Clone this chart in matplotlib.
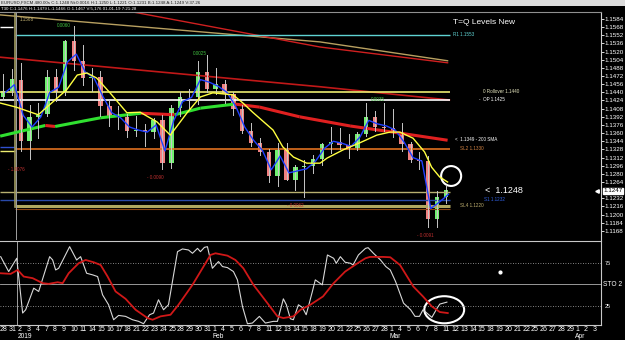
# EURUSD 8H grafiek met T=Q levels en stochastic, nagebouwd met matplotlib.
import numpy as np
import pandas as pd
import matplotlib
matplotlib.use('Agg')
import matplotlib.pyplot as plt
import matplotlib.patches as mpatches
from matplotlib.transforms import blended_transform_factory

plt.rcParams['font.family'] = ['Liberation Sans', 'DejaVu Sans']

# Handelsdagen op de tijd-as (1 januari is een feestdag). Index 0 = 2 jan 2019.
dagen = [d for d in pd.bdate_range('2018-12-28', '2019-04-03')
         if d != pd.Timestamp('2019-01-01')]
dag_labels = [str(d.day) for d in dagen]
dag_index = np.arange(len(dagen)) - 2

maand_labels = ['2019', 'Feb', 'Mar', 'Apr']
maand_index = [0, 22, 42, 63]

# Koersen per dag, 28 dec t/m 11 maart.
open_ = [1.1430, 1.1443, 1.1464, 1.1345, 1.1391,
         1.1397, 1.1471, 1.1440, 1.1540, 1.1502,
         1.1468, 1.1470, 1.1413, 1.1391, 1.1392,
         1.1364, 1.1367, 1.1363, 1.1386, 1.1302,
         1.1410, 1.1430, 1.1430, 1.1480, 1.1447,
         1.1456, 1.1436, 1.1407, 1.1364, 1.1340,
         1.1323, 1.1275, 1.1327, 1.1268, 1.1294,
         1.1296, 1.1310, 1.1339, 1.1343, 1.1336,
         1.1331, 1.1359, 1.1391, 1.1372, 1.1371,
         1.1363, 1.1339, 1.1307, 1.1306, 1.1192,
         1.1235]
hoog = [1.1476, 1.1486, 1.1497, 1.1415, 1.1420,
        1.1484, 1.1486, 1.1542, 1.1570, 1.1532,
        1.1488, 1.1481, 1.1425, 1.1413, 1.1398,
        1.1394, 1.1378, 1.1390, 1.1396, 1.1415,
        1.1440, 1.1447, 1.1502, 1.1514, 1.1488,
        1.1464, 1.1441, 1.1415, 1.1380, 1.1351,
        1.1328, 1.1341, 1.1340, 1.1297, 1.1307,
        1.1317, 1.1340, 1.1372, 1.1371, 1.1359,
        1.1363, 1.1420, 1.1404, 1.1419, 1.1408,
        1.1379, 1.1342, 1.1322, 1.1316, 1.1246,
        1.1258]
laag = [1.1424, 1.1434, 1.1325, 1.1310, 1.1351,
        1.1394, 1.1423, 1.1434, 1.1483, 1.1454,
        1.1443, 1.1394, 1.1373, 1.1369, 1.1352,
        1.1355, 1.1335, 1.1351, 1.1289, 1.1292,
        1.1393, 1.1410, 1.1417, 1.1440, 1.1436,
        1.1420, 1.1395, 1.1360, 1.1335, 1.1318,
        1.1265, 1.1257, 1.1268, 1.1249, 1.1234,
        1.1281, 1.1298, 1.1320, 1.1328, 1.1312,
        1.1326, 1.1354, 1.1364, 1.1364, 1.1353,
        1.1325, 1.1304, 1.1289, 1.1176, 1.1176,
        1.1223]
slot = [1.1443, 1.1467, 1.1345, 1.1391, 1.1395,
        1.1471, 1.1440, 1.1540, 1.1502, 1.1468,
        1.1470, 1.1413, 1.1391, 1.1392, 1.1364,
        1.1367, 1.1363, 1.1386, 1.1302, 1.1410,
        1.1430, 1.1430, 1.1480, 1.1447, 1.1456,
        1.1436, 1.1407, 1.1364, 1.1340, 1.1323,
        1.1275, 1.1327, 1.1268, 1.1294, 1.1296,
        1.1310, 1.1339, 1.1343, 1.1336, 1.1331,
        1.1359, 1.1391, 1.1372, 1.1371, 1.1363,
        1.1339, 1.1307, 1.1306, 1.1192, 1.1235,
        1.1248]
kaars_index = np.arange(len(slot)) - 2

# Snelle (blauwe) lijn per dag.
blauw = [1.1440, 1.1455, 1.1395, 1.1372, 1.1392, 1.1440, 1.1450, 1.1500, 1.1515,
         1.1480, 1.1468, 1.1432, 1.1400, 1.1390, 1.1372, 1.1366, 1.1362, 1.1376,
         1.1325, 1.1385, 1.1422, 1.1430, 1.1465, 1.1460, 1.1452, 1.1440, 1.1412,
         1.1372, 1.1346, 1.1326, 1.1288, 1.1315, 1.1282, 1.1286, 1.1290, 1.1305,
         1.1330, 1.1344, 1.1340, 1.1334, 1.1352, 1.1385, 1.1378, 1.1374, 1.1366,
         1.1342, 1.1312, 1.1305, 1.1212, 1.1225, 1.1240]

# Trage (gele) lijn.
geel_x = [-1.9, -0.1, 2.4, 5.6, 6.8, 7.9, 9.0, 10.5, 12.4, 13.9, 15.8, 17.3, 19.2,
          20.7, 22.1, 24.4, 25.5, 26.6, 28.9, 30.0, 31.2, 32.7, 34.2, 35.0, 36.8,
          38.7, 40.6, 42.1, 43.2, 44.7, 46.0, 46.8, 47.7, 48.6]
geel_y = [1.1419, 1.1411, 1.1396, 1.1445, 1.1474, 1.1478, 1.1468, 1.1439, 1.1400,
          1.1401, 1.1382, 1.1356, 1.1400, 1.1431, 1.1439, 1.1435, 1.1419, 1.1401,
          1.1366, 1.1333, 1.1313, 1.1301, 1.1301, 1.1311, 1.1327, 1.1341, 1.1356,
          1.1362, 1.1362, 1.1350, 1.1323, 1.1293, 1.1274, 1.1264]

# 200 SMA (groen als hij stijgt, rood als hij daalt).
sma200_x = [-1.9, 3.2, 4.3, 9.4, 14.0, 17.8, 20.7, 24.6, 27.4, 31.9, 37.6, 43.2, 48.6]
sma200_y = [1.1354, 1.1375, 1.1373, 1.1390, 1.1399, 1.1396, 1.1409, 1.1417, 1.1411,
            1.1392, 1.1374, 1.1360, 1.1346]

# Lange gemiddelden bovenin.
tan_x = [-1.9, 34.2, 48.6]
tan_y = [1.1592, 1.1539, 1.1502]
rood_boven_x = [13.0, 34.2, 48.6]
rood_boven_y = [1.1598, 1.1529, 1.1498]
rood_midden_x = [-1.9, 34.2, 48.8]
rood_midden_y = [1.1509, 1.1451, 1.1425]

# Stochastic %K (wit) en %D (rood).
sto_k_x = [-1.92, -1.02, -0.11, 0.56, 0.9, 1.81, 2.37, 3.61, 3.95, 4.29, 4.63, 5.87,
           6.66, 7.11, 7.79, 8.47, 9.03, 9.59, 10.27, 10.84, 11.4, 12.19, 12.98,
           13.66, 14.22, 14.9, 15.35, 15.91, 16.48, 17.04, 18.06, 18.62, 19.3, 19.75,
           20.32, 20.65, 21.1, 21.44, 22.0, 22.69, 23.14, 23.7, 24.38, 24.83, 25.4,
           25.96, 26.52, 27.31, 27.99, 28.89, 29.35, 30.02, 30.36, 30.81, 31.15,
           31.72, 32.17, 32.6, 33.3, 33.63, 34.42, 35.0, 35.7, 36.0, 36.46, 37.0,
           37.6, 37.9, 38.5, 39.3, 39.6, 40.2, 41.0, 41.6, 42.1, 42.7, 43.6, 44.4,
           44.9, 45.4, 45.8, 46.8, 47.4, 47.7, 48.5]
sto_k_y = [82.7, 65.1, 80.8, 16.1, 20.0, 45.5, 41.6, 82.7, 78.8, 67.0, 69.0, 94.5,
           78.8, 82.7, 63.1, 61.2, 59.2, 37.6, 25.9, 8.2, 13.3, 12.2, 8.2, 6.3, 3.5,
           14.1, 16.1, 31.8, 20.0, 25.9, 88.6, 91.8, 90.6, 86.7, 92.5, 88.6, 93.7,
           94.5, 69.0, 76.9, 71.0, 69.8, 65.1, 55.3, 23.9, 3.5, 4.3, 12.2, 4.3, 6.3,
           6.3, 32.9, 25.9, 9.4, 8.2, 25.9, 22.7, 14.1, 41.6, 55.3, 49.4, 84.7, 80.8,
           74.9, 82.7, 76.1, 74.9, 72.9, 84.7, 92.5, 93.3, 86.7, 78.8, 71.0, 67.0,
           53.3, 27.8, 20.0, 12.2, 12.2, 20.0, 11.0, 22.0, 26.7, 29.0]
sto_d_x = [-1.92, -0.79, 0.0, 0.68, 1.69, 2.82, 3.5, 4.51, 5.08, 5.76, 6.88, 7.67,
           8.58, 9.37, 10.16, 11.06, 12.19, 13.32, 14.67, 15.24, 16.14, 17.27, 18.17,
           19.75, 20.88, 21.78, 22.35, 23.7, 24.6, 25.5, 26.64, 28.22, 29.35, 30.02,
           31.15, 31.96, 33.07, 34.5, 35.7, 37.0, 38.4, 39.3, 39.8, 41.3, 42.1, 43.2,
           44.7, 45.8, 46.8, 47.7, 48.6]
sto_d_y = [63.1, 62.4, 67.0, 59.2, 57.3, 51.4, 50.6, 52.5, 51.4, 63.1, 74.9, 78.8,
           76.1, 72.9, 59.2, 41.6, 32.9, 20.0, 10.2, 8.2, 12.2, 14.1, 25.9, 49.4, 69.0,
           84.7, 86.7, 83.9, 78.8, 69.0, 49.4, 27.8, 12.2, 10.2, 12.2, 20.0, 25.9,
           35.7, 51.4, 65.1, 74.9, 80.8, 82.4, 82.4, 82.0, 72.9, 47.5, 35.7, 23.9,
           17.3, 16.1]

# Prijs-as labels rechts.
prijs_ticks = [1.1584, 1.1568, 1.1552, 1.1536, 1.1520, 1.1504, 1.1488, 1.1472, 1.1456,
               1.1440, 1.1424, 1.1408, 1.1392, 1.1376, 1.1360, 1.1344, 1.1328, 1.1312,
               1.1296, 1.1280, 1.1264, 1.1232, 1.1216, 1.1200, 1.1184, 1.1168]
huidige_prijs = 1.1247

# Horizontale levels: (prijs, begin, eind, kleur, dikte)
levels = [
    (1.1553, -0.23, 48.9, '#5fd3d3', 1.0),
    (1.1441, -1.92, 48.9, '#ecec70', 1.2),
    (1.1425, -1.92, 48.9, '#ffffff', 1.2),
    (1.1568, -1.92, -0.4, '#ffffff', 1.0),
    (1.1329, -0.23, 48.9, '#e07020', 1.2),
    (1.1333, -1.92, -0.23, '#3050d0', 1.0),
    (1.1325, -1.92, -0.23, '#ecec70', 1.0),
    (1.1244, -1.92, 48.9, '#b8b070', 1.0),
    (1.1229, -1.92, 48.9, '#2848a8', 1.0),
    (1.1217, -0.23, 48.9, '#b0a860', 2.2),
    (1.1212, -0.23, 48.9, '#8b4513', 0.8),
]

level_teksten = [
    (49.2, 1.1553, 'R1 1.1553', '#5fd3d3'),
    (52.6, 1.1441, '0 Rollover 1.1440', '#e8e8c0'),
    (52.1, 1.1425, '-  OP 1.1425', '#ffffff'),
    (49.4, 1.1347, '<  1.1349 - 200 SMA', '#ffffff'),
    (50.0, 1.1329, 'SL2 1.1330', '#d08040'),
    (52.7, 1.1229, 'S1 1.1232', '#3060e0'),
    (50.0, 1.1217, 'SL4 1.1220', '#c0b070'),
]
swing_teksten = [
    (4.5, 1.1572, '0.0060', '#40c040'),
    (19.9, 1.1517, '0.0025', '#40c040'),
    (39.9, 1.1425, '0.0035', '#40c040'),
    (-1.0, 1.1288, '- 1.0076', '#c03030'),
    (14.7, 1.1273, '- 0.0090', '#c03030'),
    (30.5, 1.1218, '- 0.0062', '#c03030'),
    (45.2, 1.1160, '- 0.0091', '#c03030'),
]

W, H = 625, 340
fig = plt.figure(figsize=(W / 100, H / 100), dpi=100, facecolor='black')


def box(x0, y0, x1, y1):
    return [x0 / W, 1 - y1 / H, (x1 - x0) / W, (y1 - y0) / H]


ax = fig.add_axes(box(0, 12, 601, 240), facecolor='black')
ax2 = fig.add_axes(box(0, 241, 601, 325), facecolor='black')

xmin, xmax = -17 / 8.86, 584 / 8.86
ax.set_xlim(xmin, xmax)
ax.set_ylim(1.11502, 1.15977)
ax2.set_xlim(xmin, xmax)
ax2.set_ylim(2.0, 101.2)

# Lange gemiddelden
ax.plot(tan_x, tan_y, color='#b8a060', lw=1)
ax.plot(rood_boven_x, rood_boven_y, color='#d02020', lw=1)
ax.plot(rood_midden_x, rood_midden_y, color='#c01818', lw=1.2)

# Levels
for prijs, x0, x1, kleur, dikte in levels:
    ax.plot([x0, x1], [prijs, prijs], color=kleur, lw=dikte, solid_capstyle='butt')
ax.plot([-0.23, -0.23], [1.1215, 1.15977], color='#a09a60', lw=1.2)
ax.axvline(-0.1, color='#a0a0a0', lw=0.7)
ax2.axvline(-0.1, color='#a0a0a0', lw=0.7)

# 200 SMA, gekleurd naar richting
for i in range(len(sma200_x) - 1):
    kleur = '#30e030' if sma200_y[i + 1] >= sma200_y[i] else '#e02020'
    ax.plot(sma200_x[i:i + 2], sma200_y[i:i + 2], color=kleur, lw=2.2,
            solid_capstyle='butt')

# Kaarsen
kx = kaars_index + 0.42
for x, o, h, l, c in zip(kx, open_, hoog, laag, slot):
    ax.plot([x, x], [l, h], color='#c8c8c8', lw=0.7)
    kleur = '#70f070' if c >= o else '#f08080'
    ax.bar(x, max(abs(c - o), 0.00008), bottom=min(o, c), width=0.5, color=kleur,
           edgecolor='none')

ax.plot(kaars_index + 0.7, blauw, color='#2040ff', lw=1)
ax.plot(geel_x, geel_y, color='#ffff40', lw=1)

for x, y, t, kleur in level_teksten:
    ax.text(x, y, t, color=kleur, fontsize=3.3, va='center', ha='left')
for x, y, t, kleur in swing_teksten:
    ax.text(x, y, t, color=kleur, fontsize=3.3, va='center', ha='left')
ax.text(0.3, 1.1583, '1.1568', color='#c0b070', fontsize=3.3, va='center')
ax.text(52.8, huidige_prijs, '<  1.1248', color='white', fontsize=6.5, va='center')
ax.text(49.2, 1.1577, 'T=Q Levels New', color='white', fontsize=6, va='center')

ax.add_patch(mpatches.Ellipse((49.0, 1.12758), 2.26, 0.0039, fill=False,
                              edgecolor='white', lw=1.5))

# Prijs-as rechts
ax.yaxis.tick_right()
ax.set_yticks(prijs_ticks)
ax.set_yticklabels(['%.4f' % p for p in prijs_ticks])
ax.tick_params(axis='y', colors='white', labelsize=4.5, length=2, pad=0.5, width=0.6)
ax.set_xticks([])
ax.text(1.0045, huidige_prijs, '%.4f' % huidige_prijs, transform=blended_transform_factory(
    ax.transAxes, ax.transData), fontsize=4.5, color='black', va='center', ha='left',
    bbox=dict(facecolor='white', edgecolor='white', pad=0.3))
ax.plot([65.5], [huidige_prijs], marker='<', color='white', markersize=2.5, clip_on=False)

for kant in ['left', 'bottom']:
    ax.spines[kant].set_visible(False)
ax.spines['top'].set_color('#909090')
ax.spines['right'].set_color('#d0d0d0')
ax.spines['right'].set_linewidth(0.8)

# Stochastic
for niveau, stijl in [(75, (0, (1, 2))), (50, '-'), (25, (0, (1, 2)))]:
    ax2.axhline(niveau, color='#b0b0b0', lw=0.6, linestyle=stijl)
ax2.plot(sto_k_x, sto_k_y, color='#d8d8d8', lw=0.8)
ax2.plot(sto_d_x, sto_d_y, color='#d01818', lw=1.3)
ax2.add_patch(mpatches.Ellipse((48.2, 20), 4.5, 32, fill=False, edgecolor='white', lw=1.5))
ax2.plot([54.5], [64.7], marker='o', color='white', markersize=2)

ax2.set_yticks([75, 25])
ax2.yaxis.tick_right()
ax2.set_yticklabels(['75', '25'])
ax2.tick_params(axis='y', colors='white', labelsize=4, length=0, pad=3)
ax2.text(1.003, 50, 'STO 2', transform=blended_transform_factory(ax2.transAxes, ax2.transData),
         color='white', fontsize=4.8, va='center', ha='left')

ax2.set_xticks(dag_index)
ax2.set_xticklabels(dag_labels, ha='left')
ax2.tick_params(axis='x', colors='white', labelsize=5, length=0, pad=0.8)
trans = blended_transform_factory(ax2.transData, fig.transFigure)
for t, i in zip(maand_labels, maand_index):
    ax2.text(i, 0.0, t, transform=trans, color='white', fontsize=4.8,
             ha='left', va='bottom')

ax2.spines['left'].set_visible(False)
for kant in ['top', 'right', 'bottom']:
    ax2.spines[kant].set_color('#c8c8c8')
    ax2.spines[kant].set_linewidth(0.8)

# Kopregel
fig.patches.append(mpatches.Rectangle((0, 1 - 6 / H), 1, 6 / H, transform=fig.transFigure,
                                      facecolor='#dcdcdc', edgecolor='none'))
fig.text(0.002, 1 - 3 / H, 'EURUSD,FXCM 480.00s C:1.1248 Nt:0.0016 H:1.1250 L:1.1221 '
         'O:1.1231 B:1.1248 A:1.1249 V:37.26', fontsize=3.2, color='#202020', va='center')
fig.text(0.002, 1 - 9 / H, 'T30 C:1.1476 H:1.1479 L:1.1466 O:1.1467 V:5,176 01-01-19 7:21:28',
         fontsize=3.2, color='white', va='center')

fig.savefig('out.png', dpi=100, facecolor='black')
